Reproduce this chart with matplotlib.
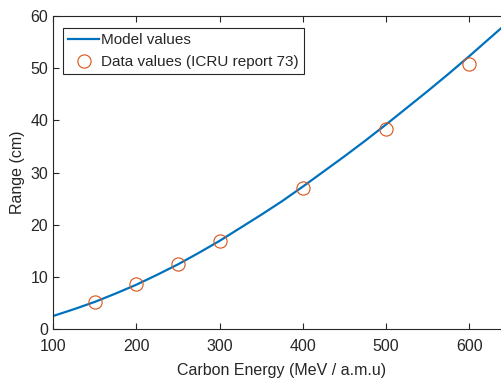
import matplotlib
matplotlib.use("Agg")
import matplotlib.pyplot as plt

plt.rcParams['font.family'] = ['Liberation Sans', 'DejaVu Sans']

# model curve
model_energy = [100, 125, 150, 175, 200, 225, 250, 275, 300, 325, 350, 375,
                400, 425, 450, 475, 500, 525, 550, 575, 600, 625, 650]
model_range = [2.5, 3.8, 5.2, 6.8, 8.5, 10.4, 12.4, 14.6, 16.9, 19.4, 21.9, 24.5,
               27.3, 30.2, 33.1, 36.1, 39.2, 42.4, 45.6, 48.9, 52.3, 55.8, 59.3]

# ICRU report 73 data points
data_energy = [150, 200, 250, 300, 400, 500, 600]
data_range = [5.2, 8.6, 12.5, 16.9, 27.0, 38.3, 50.8]

x_ticks = [100, 200, 300, 400, 500, 600]
y_ticks = [0, 10, 20, 30, 40, 50, 60]

txt = "#262626"
blue = "#0072BD"
orange = "#D95319"

fig = plt.figure(figsize=(5.02, 3.78), dpi=100)
ax = fig.add_axes([0.106, 0.1296, 0.9116, 0.828])

ax.plot(model_energy, model_range, color=blue, lw=1.6, label="Model values")
ax.plot(data_energy, data_range, ls="none", marker="o", ms=9.5,
        mfc="none", mec=orange, mew=0.8,
        label="Data values (ICRU report 73)")

ax.set_xlim(100, 650)
ax.set_ylim(0, 60)
ax.set_xticks(x_ticks)
ax.set_yticks(y_ticks)
ax.tick_params(direction="in", top=True, right=True, length=4,
               labelsize=11.5, colors=txt, width=0.8)
ax.tick_params(axis="x", pad=7.5)
for s in ax.spines.values():
    s.set_color(txt)
    s.set_linewidth(0.8)

ax.set_xlabel("Carbon Energy (MeV / a.m.u)", fontsize=11.5, color=txt, labelpad=6.5)
ax.set_ylabel("Range (cm)", fontsize=11.5, color=txt, labelpad=4)

leg = ax.legend(loc="upper left", bbox_to_anchor=(0.1255, 0.926),
                bbox_transform=fig.transFigure, borderaxespad=0,
                fontsize=11, fancybox=False, framealpha=1,
                edgecolor=txt, handlelength=2.0, handletextpad=0.15,
                borderpad=0.35, labelspacing=0.5)
leg.get_frame().set_linewidth(0.8)
for t in leg.get_texts():
    t.set_color(txt)

fig.savefig("out.png", dpi=100)
